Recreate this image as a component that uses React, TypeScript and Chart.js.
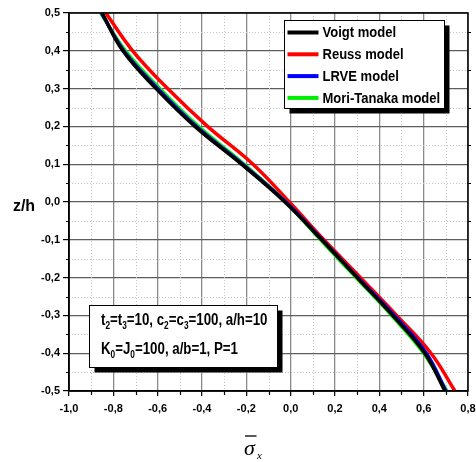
import React, { useEffect, useRef } from 'react';
import { Chart, registerables } from 'chart.js';

Chart.register(...registerables);

// z/h levels (vertical axis)
const zLevels = [0.5, 0.4, 0.3, 0.2, 0.1, 0.0, -0.1, -0.2, -0.3, -0.4, -0.5];

// normalized stress sigma_x for each model at the z/h levels
const voigt = [-0.851, -0.757, -0.607, -0.432, -0.222, -0.026, 0.14, 0.3, 0.46, 0.605, 0.696];
const reuss = [-0.834, -0.713, -0.555, -0.375, -0.17, -0.006, 0.15, 0.315, 0.478, 0.633, 0.741];
const lrve = [-0.853, -0.753, -0.6, -0.426, -0.217, -0.022, 0.142, 0.303, 0.467, 0.612, 0.7];
const moriTanaka = [-0.857, -0.745, -0.59, -0.416, -0.21, -0.022, 0.135, 0.295, 0.455, 0.6, 0.705];

const seriesNames = ['Voigt model', 'Reuss model', 'LRVE model', 'Mori-Tanaka model'];
const seriesColors = ['#000000', '#ff0000', '#0000ff', '#00ee00'];
const seriesValues = [voigt, reuss, lrve, moriTanaka];
const drawOrder = [0, 2, 3, 1]; // black, blue, green, red (red on top)

const xMinorTicks = [-0.9, -0.7, -0.5, -0.3, -0.1, 0.1, 0.3, 0.5, 0.7];
const yMinorTicks = [0.45, 0.35, 0.25, 0.15, 0.05, -0.05, -0.15, -0.25, -0.35, -0.45];

const yTitle = 'z/h';
const noteLine1 = [
  { t: 't' }, { t: '2', sub: true }, { t: '=t' }, { t: '3', sub: true }, { t: '=10, c' },
  { t: '2', sub: true }, { t: '=c' }, { t: '3', sub: true }, { t: '=100, a/h=10' },
];
const noteLine2 = [
  { t: 'K' }, { t: '0', sub: true }, { t: '=J' }, { t: '0', sub: true }, { t: '=100, a/b=1, P=1' },
];

const fmt = (v: number) => v.toFixed(1).replace('.', ',');
const SANS = '"Liberation Sans", Arial, sans-serif';

function drawRich(ctx: CanvasRenderingContext2D, parts: any[], x: number, y: number, sx: number) {
  ctx.save();
  ctx.translate(x, y);
  ctx.scale(sx, 1);
  let cx = 0;
  ctx.textBaseline = 'middle';
  ctx.textAlign = 'left';
  ctx.fillStyle = '#000';
  for (const p of parts) {
    if (p.sub) {
      ctx.font = `bold 10px ${SANS}`;
      ctx.fillText(p.t, cx, 6);
    } else {
      ctx.font = `bold 16px ${SANS}`;
      ctx.fillText(p.t, cx, 0);
    }
    cx += ctx.measureText(p.t).width;
  }
  ctx.restore();
}

function shadowBox(ctx: CanvasRenderingContext2D, x: number, y: number, w: number, h: number) {
  ctx.fillStyle = '#000000';
  ctx.fillRect(x + 5, y + 5, w, h);
  ctx.fillStyle = '#ffffff';
  ctx.fillRect(x, y, w, h);
  ctx.strokeStyle = '#000000';
  ctx.lineWidth = 1;
  ctx.strokeRect(x, y, w, h);
}

const decorPlugin = {
  id: 'decor',
  beforeDatasetsDraw(chart: any) {
    const { ctx, chartArea: a, scales } = chart;
    const x = scales.x;
    const y = scales.y;
    ctx.save();
    ctx.strokeStyle = '#c4c4c4';
    ctx.lineWidth = 1;
    ctx.setLineDash([1, 2]);
    for (const v of xMinorTicks) {
      const px = Math.round(x.getPixelForValue(v)) + 0.5;
      ctx.beginPath();
      ctx.moveTo(px, a.top);
      ctx.lineTo(px, a.bottom);
      ctx.stroke();
    }
    for (const v of yMinorTicks) {
      const py = Math.round(y.getPixelForValue(v)) + 0.5;
      ctx.beginPath();
      ctx.moveTo(a.left, py);
      ctx.lineTo(a.right, py);
      ctx.stroke();
    }
    ctx.setLineDash([]);
    ctx.strokeStyle = '#000';
    ctx.lineWidth = 1.2;
    for (const v of xMinorTicks) {
      const px = Math.round(x.getPixelForValue(v)) + 0.5;
      ctx.beginPath();
      ctx.moveTo(px, a.bottom);
      ctx.lineTo(px, a.bottom + 4);
      ctx.stroke();
    }
    for (const v of yMinorTicks) {
      const py = Math.round(y.getPixelForValue(v)) + 0.5;
      ctx.beginPath();
      ctx.moveTo(a.left - 3, py);
      ctx.lineTo(a.left, py);
      ctx.moveTo(a.right, py);
      ctx.lineTo(a.right + 3, py);
      ctx.stroke();
    }
    ctx.restore();
  },
  afterDraw(chart: any) {
    const { ctx, chartArea: a } = chart;
    ctx.save();
    ctx.setLineDash([]);
    ctx.globalAlpha = 1;
    // frame
    ctx.strokeStyle = '#000';
    ctx.lineWidth = 1.5;
    ctx.strokeRect(a.left, a.top, a.right - a.left, a.bottom - a.top);

    // legend box
    shadowBox(ctx, 284.5, 20.5, 160, 88);
    seriesNames.forEach((name, i) => {
      const ry = 32.5 + i * 21.8;
      ctx.strokeStyle = seriesColors[i];
      ctx.lineWidth = 4;
      ctx.beginPath();
      ctx.moveTo(287.5, ry);
      ctx.lineTo(318.5, ry);
      ctx.stroke();
      ctx.save();
      ctx.translate(322.5, ry + 1);
      ctx.scale(0.93, 1);
      ctx.font = `bold 14px ${SANS}`;
      ctx.fillStyle = '#000';
      ctx.textBaseline = 'middle';
      ctx.textAlign = 'left';
      ctx.fillText(name, 0, 0);
      ctx.restore();
    });

    // note box
    shadowBox(ctx, 89.5, 305.5, 188, 62);
    drawRich(ctx, noteLine1, 101, 320.5, 0.83);
    drawRich(ctx, noteLine2, 101, 349.5, 0.83);

    // y title
    ctx.fillStyle = '#000';
    ctx.font = `bold 16px ${SANS}`;
    ctx.textAlign = 'center';
    ctx.textBaseline = 'middle';
    ctx.fillText(yTitle, 24, 207);

    // x title: sigma with overline, subscript x
    ctx.textAlign = 'left';
    ctx.textBaseline = 'alphabetic';
    ctx.font = `italic 22px "Liberation Serif", "Times New Roman", serif`;
    ctx.fillText('σ', 244, 455);
    ctx.strokeStyle = '#000';
    ctx.lineWidth = 1.3;
    ctx.beginPath();
    ctx.moveTo(245, 436);
    ctx.lineTo(256.5, 436);
    ctx.stroke();
    ctx.font = `italic 11px "Liberation Serif", "Times New Roman", serif`;
    ctx.fillText('x', 257, 459);
    ctx.restore();
  },
};

export default function App() {
  const ref = useRef<HTMLCanvasElement | null>(null);
  useEffect(() => {
    if (!ref.current) return;
    const datasets = drawOrder.map((i) => ({
      label: seriesNames[i],
      data: zLevels.map((z, k) => ({ x: seriesValues[i][k], y: z })),
      borderColor: seriesColors[i],
      backgroundColor: seriesColors[i],
      borderWidth: 3.5,
      pointRadius: 0,
      fill: false,
      tension: 0.4,
    }));
    const chart = new Chart(ref.current, {
      type: 'line',
      data: { datasets },
      plugins: [decorPlugin],
      options: {
        animation: false,
        responsive: false,
        devicePixelRatio: 1,
        layout: { padding: { left: 0, right: 8, top: 13, bottom: 0 } },
        plugins: { legend: { display: false }, tooltip: { enabled: false } },
        scales: {
          x: {
            type: 'linear',
            min: -1,
            max: 0.8,
            afterFit: (s: any) => { s.height = 71; s.paddingLeft = 0; s.paddingRight = 0; },
            ticks: {
              stepSize: 0.2,
              autoSkip: false,
              maxRotation: 0,
              padding: 6,
              color: '#000',
              font: { family: SANS, size: 11, weight: 'bold' },
              callback: (v: any) => fmt(Number(v)),
            },
            grid: { color: '#8a8a8a', lineWidth: 1.3, tickLength: 5, tickColor: '#000', tickWidth: 1.2 },
            border: { color: '#000', width: 1.5 },
          },
          y: {
            type: 'linear',
            min: -0.5,
            max: 0.5,
            afterFit: (s: any) => { s.width = 69; s.paddingTop = 0; s.paddingBottom = 0; },
            ticks: {
              stepSize: 0.1,
              autoSkip: false,
              padding: 3,
              color: '#000',
              font: { family: SANS, size: 11, weight: 'bold' },
              callback: (v: any) => fmt(Number(v)),
            },
            grid: { color: '#5e5e5e', lineWidth: 1.2, tickLength: 6, tickColor: '#000', tickWidth: 1.2 },
            border: { color: '#000', width: 1.5 },
          },
        },
      } as any,
    });
    return () => chart.destroy();
  }, []);
  return (
    <div style={{ position: 'fixed', left: 0, top: 0, width: 476, height: 462, background: '#fff' }}>
      <canvas ref={ref} width={476} height={462} style={{ width: 476, height: 462, display: 'block' }} />
    </div>
  );
}
